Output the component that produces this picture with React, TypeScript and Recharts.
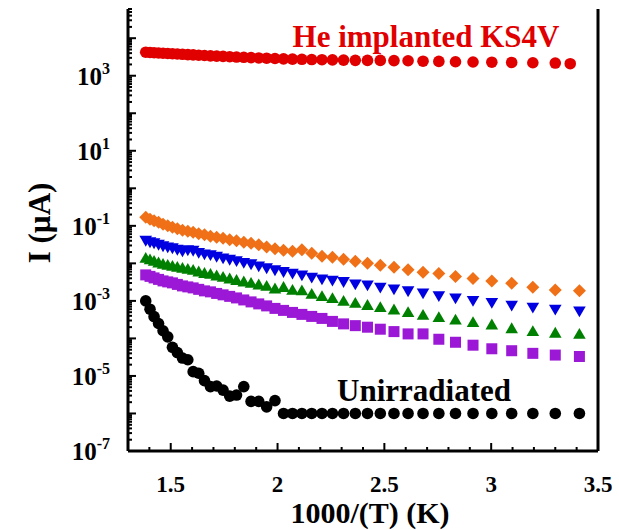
import { ScatterChart, Scatter, XAxis, YAxis, ReferenceLine } from "recharts";

// 1000/T values (K^-1), one per measured temperature
const X_VALUES = [
  1.383, 1.403, 1.422, 1.443, 1.464, 1.486, 1.508, 1.531, 1.555, 1.58,
  1.605, 1.631, 1.658, 1.686, 1.715, 1.745, 1.776, 1.808, 1.842, 1.876,
  1.912, 1.949, 1.988, 2.028, 2.07, 2.114, 2.16, 2.208, 2.257, 2.309,
  2.364, 2.421, 2.481, 2.545, 2.611, 2.681, 2.755, 2.833, 2.915, 3.003,
  3.096, 3.195, 3.3, 3.413,
];
const RED_LAST_X = 3.37;

// currents in µA
const RED = [
  4230, 4160, 4110, 4030, 3980, 3910, 3860, 3790, 3720, 3650,
  3590, 3520, 3460, 3390, 3330, 3270, 3210, 3150, 3100, 3040,
  2980, 2930, 2880, 2820, 2770, 2740, 2700, 2670, 2640, 2610,
  2570, 2560, 2560, 2530, 2510, 2440, 2410, 2360, 2320, 2290,
  2260, 2220, 2180, 2090,
];
const ORANGE = [
  0.169, 0.149, 0.136, 0.124, 0.11, 0.1, 0.0912, 0.0832, 0.0759, 0.0713,
  0.0671, 0.0612, 0.0575, 0.0525, 0.0493, 0.0464, 0.0424, 0.0398, 0.0363, 0.0341,
  0.0311, 0.0275, 0.0244, 0.0222, 0.0209, 0.0229, 0.0185, 0.0154, 0.0145, 0.0128,
  0.0113, 0.0101, 0.00895, 0.00793, 0.00672, 0.00582, 0.00535, 0.00445, 0.00394, 0.00341,
  0.00296, 0.00232, 0.00196, 0.00185,
];
const BLUE = [
  0.041, 0.0374, 0.0352, 0.0321, 0.0293, 0.0275, 0.0259, 0.0236, 0.0215, 0.0229,
  0.0222, 0.0196, 0.0179, 0.0169, 0.0154, 0.014, 0.0128, 0.0117, 0.0106, 0.0097,
  0.00857, 0.00759, 0.00672, 0.00604, 0.00548, 0.00493, 0.00429, 0.00386, 0.00356, 0.00327,
  0.00284, 0.00267, 0.00232, 0.00209, 0.00185, 0.00163, 0.00138, 0.0012, 0.00102, 0.000902,
  0.000767, 0.000679, 0.000601, 0.000541,
];
const GREEN = [
  0.0136, 0.0124, 0.0113, 0.0103, 0.0094, 0.00885, 0.00832, 0.00782, 0.00736, 0.00692,
  0.00651, 0.00593, 0.00541, 0.00509, 0.00464, 0.00424, 0.00386, 0.00352, 0.00321, 0.00293,
  0.00267, 0.00244, 0.00209, 0.00229, 0.00191, 0.00185, 0.00151, 0.0013, 0.00115, 0.000982,
  0.000869, 0.000759, 0.000662, 0.000575, 0.000488, 0.000416, 0.000359, 0.000311, 0.000264, 0.000229,
  0.000182, 0.000152, 0.000138, 0.000129,
];
const PURPLE = [
  0.00493, 0.0045, 0.0041, 0.00374, 0.00341, 0.00321, 0.00302, 0.00275, 0.00251, 0.00236,
  0.00222, 0.00203, 0.00185, 0.00174, 0.00158, 0.00145, 0.00132, 0.0012, 0.00106, 0.00094,
  0.000832, 0.000736, 0.000631, 0.000558, 0.000493, 0.000437, 0.000386, 0.000341, 0.000284, 0.000244,
  0.000219, 0.000199, 0.000176, 0.000152, 0.000132, 0.000132, 0.000095, 0.000079, 0.000066, 0.000053,
  0.000047, 0.00004, 0.000036, 0.000033,
];
const BLACK = [
  1.0e-3, 6.0e-4, 3.8e-4, 2.5e-4, 1.6e-4, 1.1e-4, 5.8e-5, 4.2e-5, 3.0e-5, 2.7e-5,
  1.3e-5, 1.18e-5, 7.5e-6, 5.2e-6, 5.4e-6, 4.2e-6, 2.9e-6, 3.1e-6, 5.2e-6, 2.1e-6,
  2.1e-6, 1.5e-6, 2.2e-6, 1e-6, 1e-6, 1e-6, 1e-6, 1e-6, 1e-6, 1e-6,
  1e-6, 1e-6, 1e-6, 1e-6, 1e-6, 1e-6, 1e-6, 1e-6, 1e-6, 1e-6,
  1e-6, 1e-6, 1e-6, 1e-6,
];

const X_TICK_LABELS = ["1.5", "2", "2.5", "3", "3.5"];
const Y_LABEL_EXPONENTS = [-7, -5, -3, -1, 1, 3];

const W = 619;
const H = 530;
const FONT = "'Liberation Serif', 'Times New Roman', serif";

const X_TICKS = Array.from({ length: 22 }, (_, i) => +(1.4 + i * 0.1).toFixed(1));
const Y_TICKS: number[] = [];
for (let e = -7; e <= 4; e++) {
  for (let m = 1; m <= 9; m++) {
    const v = m * Math.pow(10, e);
    if (v <= 6e4) Y_TICKS.push(v);
  }
}

const toPoints = (xs: number[], ys: number[]) => ys.map((y, i) => ({ x: xs[i], y }));
const RED_X = X_VALUES.map((x, i) => (i === X_VALUES.length - 1 ? RED_LAST_X : x));

const dot = (color: string, r: number) => (p: any) => (
  <circle cx={p.cx} cy={p.cy} r={r} fill={color} />
);
const diamond = (color: string, s: number) => (p: any) => (
  <path d={`M${p.cx},${p.cy - s}L${p.cx + s},${p.cy}L${p.cx},${p.cy + s}L${p.cx - s},${p.cy}Z`} fill={color} />
);
const square = (color: string, s: number) => (p: any) => (
  <rect x={p.cx - s / 2} y={p.cy - s / 2} width={s} height={s} fill={color} />
);
const triUp = (color: string) => (p: any) => (
  <path d={`M${p.cx},${p.cy - 6.3}L${p.cx + 6.3},${p.cy + 4.5}L${p.cx - 6.3},${p.cy + 4.5}Z`} fill={color} />
);
const triDown = (color: string) => (p: any) => (
  <path d={`M${p.cx},${p.cy + 6.3}L${p.cx + 6.3},${p.cy - 4.5}L${p.cx - 6.3},${p.cy - 4.5}Z`} fill={color} />
);

function BottomTick({ x, y, payload }: any) {
  const label = X_TICK_LABELS.find((l) => Math.abs(parseFloat(l) - payload.value) < 1e-6);
  return (
    <g>
      <line x1={x} x2={x} y1={y} y2={y - (label ? 8 : 4)} stroke="#000" strokeWidth={2} />
      {label && (
        <text x={x} y={y + 41} textAnchor="middle" fontFamily={FONT} fontWeight="bold" fontSize={23} fill="#000">
          {label}
        </text>
      )}
    </g>
  );
}

function TopTick({ x, y, payload }: any) {
  const major = X_TICK_LABELS.some((l) => Math.abs(parseFloat(l) - payload.value) < 1e-6);
  return <line x1={x} x2={x} y1={y} y2={y + (major ? 8 : 4)} stroke="#000" strokeWidth={2} />;
}

function LeftTick({ x, y, payload }: any) {
  const lg = Math.log10(payload.value);
  const exp = Math.round(lg);
  const major = Math.abs(lg - exp) < 1e-6;
  const showLabel = major && Y_LABEL_EXPONENTS.includes(exp);
  return (
    <g>
      <line x1={x} x2={x + (major ? 8 : 4)} y1={y} y2={y} stroke="#000" strokeWidth={2} />
      {showLabel && (
        <text x={x - 18} y={y + 9} textAnchor="end" fontFamily={FONT} fontWeight="bold" fontSize={25} fill="#000">
          <tspan>10</tspan>
          <tspan dy={-11} fontSize={16}>{exp}</tspan>
        </text>
      )}
    </g>
  );
}

const SERIES = [
  { name: "He implanted KS4V", xs: RED_X, ys: RED, shape: dot("#e00000", 5.8) },
  { name: "orange", xs: X_VALUES, ys: ORANGE, shape: diamond("#f07018", 6.5) },
  { name: "blue", xs: X_VALUES, ys: BLUE, shape: triDown("#0000e0") },
  { name: "green", xs: X_VALUES, ys: GREEN, shape: triUp("#008000") },
  { name: "purple", xs: X_VALUES, ys: PURPLE, shape: square("#9b19d6", 11) },
  { name: "Unirradiated", xs: X_VALUES, ys: BLACK, shape: dot("#000000", 5.8) },
];

export default function App() {
  return (
    <div style={{ position: "absolute", left: 0, top: 0, width: W, height: H, background: "#fff" }}>
      <ScatterChart width={W} height={H} margin={{ top: 9, right: 21, bottom: 0, left: 0 }}>
        <XAxis
          xAxisId="bottom"
          dataKey="x"
          type="number"
          domain={[1.3, 3.5]}
          allowDataOverflow
          ticks={X_TICKS}
          interval={0}
          height={79}
          tickSize={0}
          tickMargin={0}
          tickLine={false}
          axisLine={{ stroke: "#000", strokeWidth: 3 }}
          tick={<BottomTick />}
        />
        <XAxis
          xAxisId="top"
          orientation="top"
          dataKey="x"
          type="number"
          domain={[1.3, 3.5]}
          allowDataOverflow
          ticks={X_TICKS}
          interval={0}
          height={0}
          tickSize={0}
          tickMargin={0}
          tickLine={false}
          axisLine={{ stroke: "#000", strokeWidth: 3 }}
          tick={<TopTick />}
        />
        <YAxis
          yAxisId="left"
          dataKey="y"
          type="number"
          scale="log"
          domain={[1e-7, 6e4]}
          allowDataOverflow
          ticks={Y_TICKS}
          interval={0}
          width={128}
          tickSize={0}
          tickMargin={0}
          tickLine={false}
          axisLine={{ stroke: "#000", strokeWidth: 3 }}
          tick={<LeftTick />}
        />
        <ReferenceLine xAxisId="bottom" yAxisId="left" x={3.5} stroke="#000" strokeWidth={3} />
        {SERIES.map((s) => (
          <Scatter
            key={s.name}
            name={s.name}
            xAxisId="bottom"
            yAxisId="left"
            data={toPoints(s.xs, s.ys)}
            shape={s.shape}
            isAnimationActive={false}
          />
        ))}
        <Scatter xAxisId="top" yAxisId="left" data={[]} isAnimationActive={false} />
      </ScatterChart>
      <svg width={W} height={H} style={{ position: "absolute", left: 0, top: 0, pointerEvents: "none" }}>
        <text x={426} y={47} textAnchor="middle" fontFamily={FONT} fontWeight="bold" fontSize={31} fill="#e00000">
          He implanted KS4V
        </text>
        <text x={424} y={401} textAnchor="middle" fontFamily={FONT} fontWeight="bold" fontSize={31} fill="#000">
          Unirradiated
        </text>
        <text x={370} y={523} textAnchor="middle" fontFamily={FONT} fontWeight="bold" fontSize={30} fill="#000">
          1000/(T) (K)
        </text>
        <text
          transform="translate(50,223) rotate(-90)"
          textAnchor="middle"
          fontFamily={FONT}
          fontWeight="bold"
          fontSize={31}
          fill="#000"
        >
          I (µA)
        </text>
      </svg>
    </div>
  );
}
